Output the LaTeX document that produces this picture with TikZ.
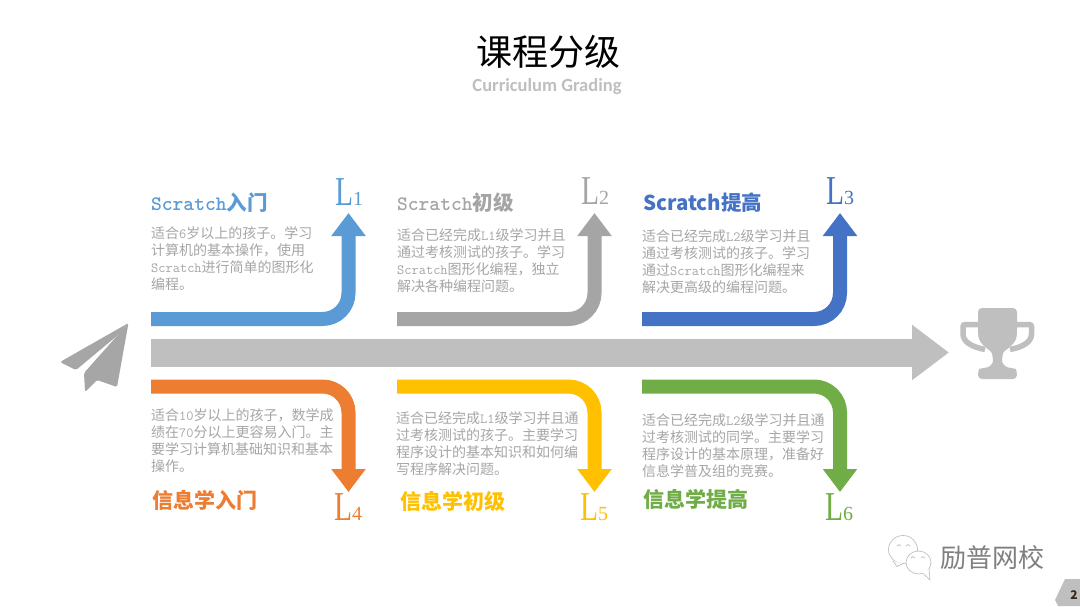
\documentclass[tikz,border=0pt]{standalone}
\usepackage{fontspec}
\setmainfont{Noto Sans CJK SC}
\newfontfamily\latinsub{Carlito}
\newfontfamily\levelfont{Liberation Serif}
\usetikzlibrary{arrows.meta}

\definecolor{lblue}{HTML}{5B9BD5}
\definecolor{lgray}{HTML}{A5A5A5}
\definecolor{dblue}{HTML}{4472C4}
\definecolor{lorange}{HTML}{ED7D31}
\definecolor{lyellow}{HTML}{FFC000}
\definecolor{lgreen}{HTML}{70AD47}
\definecolor{maingray}{HTML}{BFBFBF}
\definecolor{textgray}{HTML}{A6A6A6}

\newcommand{\la}[1]{{\ttfamily #1}}
\newcommand{\lvl}[2]{\scalebox{0.82}[1.14]{\levelfont\fontsize{36}{36}\selectfont L}{\levelfont\fontsize{20}{20}\selectfont #2}}

\begin{document}
\begin{tikzpicture}[x=1pt,y=-1pt,inner sep=0pt]

            \tikzstyle{bent}=[line width=14pt,rounded corners=26pt,-{Triangle[width=33pt,length=23pt]}]
            \tikzstyle{body}=[anchor=north west,align=left,text=textgray,font=\fontsize{14}{17}\selectfont]
            \tikzstyle{head}=[anchor=base west,font=\bfseries\fontsize{20.5}{22}\selectfont]
            \tikzstyle{headlow}=[anchor=base west,font=\bfseries\fontsize{21}{22}\selectfont]
            \tikzstyle{level}=[anchor=base west]
            \tikzstyle{bubble}=[draw=lgray!70,line width=0.7pt,fill=white]
            \tikzstyle{eye}=[lgray!70,line width=0.7pt]

            \useasboundingbox (0,0) rectangle (1080,606);
            \fill[white] (0,0) rectangle (1080,606);

            \node (title) at (548,52) {\fontsize{36}{38}\selectfont 课程分级};
            \node[text=maingray] (subtitle) at (547,87) {\latinsub\bfseries\fontsize{18.5}{20}\selectfont Curriculum Grading};

            \coordinate (m0) at (151,352.5);
            \coordinate (m1) at (949,352.5);
            \draw[maingray,line width=28pt,-{Triangle[width=53pt,length=37pt]}] (m0) -- (m1);

            \coordinate (a0) at (151,319);
            \coordinate (a1) at (348.5,319);
            \coordinate (a2) at (348.5,213);
            \coordinate (b0) at (397,319);
            \coordinate (b1) at (594.5,319);
            \coordinate (b2) at (594.5,213);
            \coordinate (c0) at (642,319);
            \coordinate (c1) at (840,319);
            \coordinate (c2) at (840,213);
            \coordinate (d0) at (151,386.5);
            \coordinate (d1) at (348.5,386.5);
            \coordinate (d2) at (348.5,492);
            \coordinate (e0) at (397,386.5);
            \coordinate (e1) at (594.5,386.5);
            \coordinate (e2) at (594.5,492);
            \coordinate (f0) at (642,386.5);
            \coordinate (f1) at (840,386.5);
            \coordinate (f2) at (840,492);

            \draw[bent,lblue] (a0) -- (a1) -- (a2);
            \draw[bent,lgray] (b0) -- (b1) -- (b2);
            \draw[bent,dblue] (c0) -- (c1) -- (c2);
            \draw[bent,lorange] (d0) -- (d1) -- (d2);
            \draw[bent,lyellow] (e0) -- (e1) -- (e2);
            \draw[bent,lgreen] (f0) -- (f1) -- (f2);

            \node[head,text=lblue] (h1) at (151,210) {\la{Scratch}入门};
            \node[head,text=lgray] (h2) at (397,210) {\la{Scratch}初级};
            \node[head,text=dblue] (h3) at (643,210) {Scratch提高};
            \node[headlow,text=lorange] (h4) at (152,508) {信息学入门};
            \node[headlow,text=lyellow] (h5) at (400,509) {信息学初级};
            \node[headlow,text=lgreen] (h6) at (643,507) {信息学提高};

            \node[level,text=lblue] (l1) at (335,205) {\lvl{L}{1}};
            \node[level,text=lgray] (l2) at (581,204) {\lvl{L}{2}};
            \node[level,text=dblue] (l3) at (826,204) {\lvl{L}{3}};
            \node[level,text=lorange] (l4) at (334,520) {\lvl{L}{4}};
            \node[level,text=lyellow] (l5) at (580,520) {\lvl{L}{5}};
            \node[level,text=lgreen] (l6) at (825,520) {\lvl{L}{6}};

            \node[body] (t1) at (151,226.5) {适合\la{6}岁以上的孩子。学习\\计算机的基本操作，使用\\\la{Scratch}进行简单的图形化\\编程。};
            \node[body] (t2) at (397,228.5) {适合已经完成\la{L1}级学习并且\\通过考核测试的孩子。学习\\\la{Scratch}图形化编程，独立\\解决各种编程问题。};
            \node[body] (t3) at (642,229.5) {适合已经完成\la{L2}级学习并且\\通过考核测试的孩子。学习\\通过\la{Scratch}图形化编程来\\解决更高级的编程问题。};
            \node[body] (t4) at (151,408.5) {适合\la{10}岁以上的孩子，数学成\\绩在\la{70}分以上更容易入门。主\\要学习计算机基础知识和基本\\操作。};
            \node[body] (t5) at (396,411.5) {适合已经完成\la{L1}级学习并且通\\过考核测试的孩子。主要学习\\程序设计的基本知识和如何编\\写程序解决问题。};
            \node[body] (t6) at (642,413.5) {适合已经完成\la{L2}级学习并且通\\过考核测试的同学。主要学习\\程序设计的基本原理，准备好\\信息学普及组的竞赛。};

            \fill[textgray,rounded corners=1.5pt] (128.5,323) -- (60,362) -- (76,370) -- (118,335) -- cycle;
            \fill[textgray,rounded corners=1.5pt] (128.5,323) -- (84,373) -- (85,392) -- (97,380) -- (117,387) -- cycle;

            \draw[maingray,line width=5.5pt,rounded corners=2pt] (982,324.5) -- (963,324.5) -- (963,332) .. controls (963,342) and (972,347) .. (985,349.5);
            \draw[maingray,line width=5.5pt,rounded corners=2pt] (1014,324.5) -- (1031.5,324.5) -- (1031.5,332) .. controls (1031.5,342) and (1023,347) .. (1010,349.5);
            \fill[maingray,rounded corners=4pt] (978,308) -- (1017,308) -- (1017,332) .. controls (1016,345) and (1004,350) .. (1002,357) .. controls (1002,363) and (1005,367) .. (1012,368) .. controls (1016,369) and (1017,373) .. (1017,379) -- (978,379) .. controls (978,373) and (979,369) .. (983,368) .. controls (990,367) and (993,363) .. (993,357) .. controls (991,350) and (979,345) .. (978,332) -- cycle;

            \draw[bubble] (903,549.5) ellipse (14.5pt and 14pt);
            \draw[bubble] (893,561) -- (897,566.5) -- (903,563.5);
            \draw[eye] (897,546) -- (899,544.5) -- (901,546);
            \draw[eye] (906,546) -- (908,544.5) -- (910,546);
            \draw[bubble] (918.5,562.5) ellipse (12.5pt and 11.5pt);
            \draw[bubble] (923,573.5) -- (930,580) -- (929,568);
            \fill[white] (922,572) -- (928.5,577) -- (928,570) -- cycle;
            \draw[eye] (911,558) -- (913,556.5) -- (915,558);
            \draw[eye] (921,558) -- (923,556.5) -- (925,558);
            \node[text=gray] (brand) at (992,558) {\fontsize{26}{28}\selectfont 励普网校};

            \fill[maingray] (1055,600) -- (1065,579) -- (1080,579) -- (1080,606) -- (1058,606) -- cycle;
            \node[text=black!70!brown] (page) at (1074,595) {\bfseries\fontsize{12}{12}\selectfont 2};
        \end{tikzpicture}
\end{document}
